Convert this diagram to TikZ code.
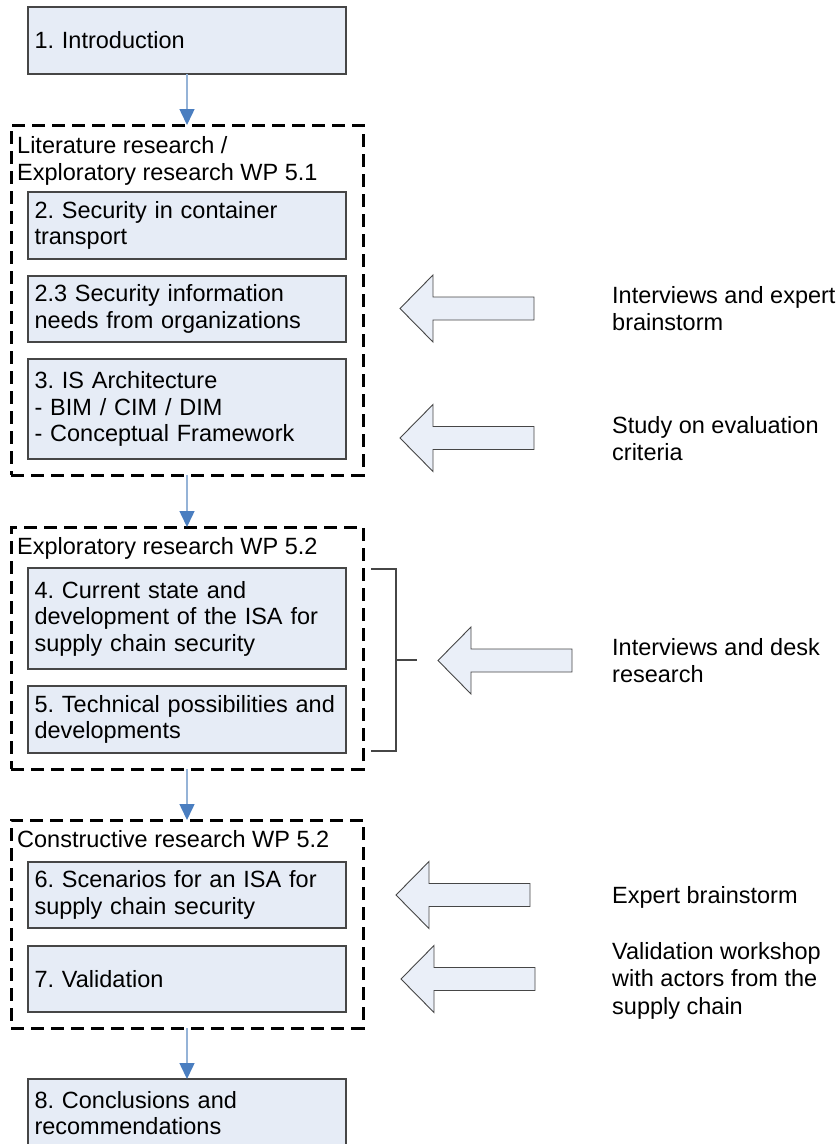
\documentclass[tikz,border=0pt]{standalone}
\usepackage{fontspec}
\setmainfont{Liberation Sans}
\usetikzlibrary{arrows.meta}

\definecolor{boxfill}{RGB}{230,236,246}
\definecolor{arrowfill}{RGB}{234,239,248}
\definecolor{boxline}{RGB}{70,70,70}
\definecolor{flowline}{RGB}{149,179,215}
\definecolor{flowhead}{RGB}{74,126,192}

\tikzset{
  stagebox/.style={draw=boxline, fill=boxfill, line width=1.1pt,
    anchor=north west, outer sep=0pt, minimum width=318pt, text width=305pt,
    inner xsep=6.5pt, inner ysep=0pt, align=left, text=black,
    font=\fontsize{23.5}{26.5}\selectfont},
  phasebox/.style={draw=black, line width=3pt, dash pattern=on 13pt off 7pt,
    anchor=north west, outer sep=0pt, minimum width=352pt, inner sep=0pt},
  phasetitle/.style={anchor=north west, inner sep=0pt, align=left, text=black,
    font=\fontsize{23.5}{27}\selectfont},
  sourcetext/.style={anchor=north west, inner sep=0pt, align=left, text=black,
    font=\fontsize{23.5}{27.5}\selectfont},
  flow/.style={draw=flowline, line width=1.5pt,
    -{Triangle[width=15pt,length=16pt,color=flowhead]}},
  inputarrow/.style={draw=boxline, fill=arrowfill, line width=0.9pt, line join=miter},
  bracket/.style={draw=boxline, line width=1.1pt},
  % block arrow pointing left, tip at the pic origin
  inarrow/.pic={
    \draw[inputarrow] (0,0) -- (33,-33.5) -- (33,-11.5) -- (134,-11.5)
      -- (134,11.5) -- (33,11.5) -- (33,33.5) -- cycle;
  }
}

\begin{document}
\frenchspacing
\begin{tikzpicture}[x=1pt,y=-1pt]
\useasboundingbox (0,0) rectangle (839,1144);

% research phases (dashed frames)
\node[phasebox, minimum height=350pt] (p1) at (11,125) {};
\node[phasebox, minimum height=242pt] (p2) at (11,527) {};
\node[phasebox, minimum height=208pt] (p3) at (11,820) {};

\node[phasetitle] (t1) at (17,136) {Literature research /\\Exploratory research WP 5.1};
\node[phasetitle] (t2) at (17,537) {Exploratory research WP 5.2};
\node[phasetitle] (t3) at (17,830) {Constructive research WP 5.2};

% chapters
\node[stagebox, minimum height=67pt]  (b1)  at (28,7)    {1. Introduction};
\node[stagebox, minimum height=67pt]  (b2)  at (28,192)  {2. Security in container\\transport};
\node[stagebox, minimum height=66pt]  (b23) at (28,276)  {2.3 Security information\\needs from organizations};
\node[stagebox, minimum height=100pt] (b3)  at (28,359)  {3. IS Architecture\\- BIM / CIM / DIM\\- Conceptual Framework};
\node[stagebox, minimum height=101pt] (b4)  at (28,568)  {4. Current state and\\development of the ISA for\\supply chain security};
\node[stagebox, minimum height=67pt]  (b5)  at (28,686)  {5. Technical possibilities and\\developments};
\node[stagebox, minimum height=66pt]  (b6)  at (28,862)  {6. Scenarios for an ISA for\\supply chain security};
\node[stagebox, minimum height=66pt]  (b7)  at (28,946)  {7. Validation};
\node[stagebox, minimum height=68pt]  (b8)  at (28,1079) {8. Conclusions and\\recommendations};

% flow between phases
\draw[flow] (b1.south) -- (p1.north);
\draw[flow] (p1.south) -- (p2.north);
\draw[flow] (p2.south) -- (p3.north);
\draw[flow] (p3.south) -- (b8.north);

% bracket grouping chapters 4 and 5
\coordinate (k1) at (371,569);
\coordinate (k2) at (396,569);
\coordinate (k3) at (396,751);
\coordinate (k4) at (371,751);
\coordinate (k5) at (396,660);
\coordinate (k6) at (417,660);
\draw[bracket] (k1) -- (k2) -- (k3) -- (k4);
\draw[bracket] (k5) -- (k6);

% inputs
\pic at (400,308.5) {inarrow};
\pic at (400,438)   {inarrow};
\pic at (438,660.5) {inarrow};
\pic at (396,895)   {inarrow};
\pic at (401,979)   {inarrow};

\node[sourcetext] (s1) at (612,286) {Interviews and expert\\brainstorm};
\node[sourcetext] (s2) at (612,416) {Study on evaluation\\criteria};
\node[sourcetext] (s3) at (612,638) {Interviews and desk\\research};
\node[sourcetext] (s5) at (612,886) {Expert brainstorm};
\node[sourcetext] (s6) at (612,942) {Validation workshop\\with actors from the\\supply chain};
\end{tikzpicture}
\end{document}
